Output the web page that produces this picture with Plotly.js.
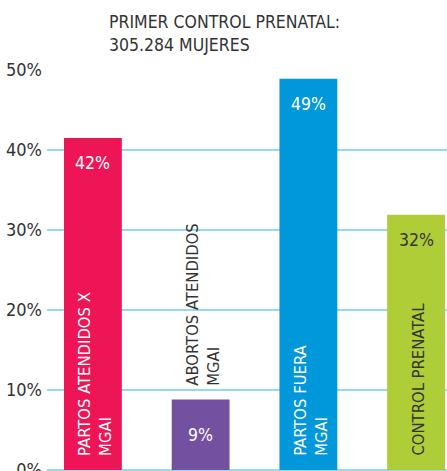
<!DOCTYPE html>
<html><head><meta charset="utf-8">
<script src="https://cdn.plot.ly/plotly-3.0.1.min.js"></script>
<style>html,body{margin:0;padding:0;background:#fff}#chart{width:447px;height:471px}</style>
</head><body><div id="chart"></div>
<script>
const categories = ["PARTOS ATENDIDOS X<br>MGAI", "ABORTOS ATENDIDOS<br>MGAI", "PARTOS FUERA<br>MGAI", "CONTROL PRENATAL"];
const values = [41.5, 8.8, 48.9, 31.9];
const valueLabels = ["42%", "9%", "49%", "32%"];
const colors = ["#ED1556", "#7350A0", "#0097DB", "#AFCD36"];
const labelColors = ["#ffffff", "#ffffff", "#ffffff", "#333333"];
const catColors = ["#ffffff", "#333333", "#ffffff", "#333333"];
const tickVals = [0, 10, 20, 30, 40, 50];
const tickText = ["0%", "10%", "20%", "30%", "40%", "50%"];
const titleText = "PRIMER CONTROL PRENATAL:<br>305.284 MUJERES";

const FONT = "'Liberation Sans Narrow', 'Arial Narrow', 'DejaVu Sans Condensed', sans-serif";
const xs = categories.map((c, i) => i);

const annotations = [];
values.forEach((v, i) => {
  const small = v < 15;
  annotations.push({
    x: i, y: small ? v / 2 : v, xref: 'x', yref: 'y',
    text: valueLabels[i], showarrow: false,
    yanchor: small ? 'middle' : 'top', yshift: small ? 0 : -13,
    font: {family: FONT, size: 17.5, color: labelColors[i]}
  });
  annotations.push({
    x: i, y: small ? v : 0, xref: 'x', yref: 'y',
    text: categories[i], showarrow: false, textangle: -90,
    xanchor: 'center', yanchor: 'bottom', align: 'left',
    xshift: 2, yshift: 12,
    font: {family: FONT, size: 16.5, color: catColors[i]}
  });
});
annotations.push({
  x: 0, y: 1, xref: 'paper', yref: 'paper', xshift: 60, yshift: 60,
  text: titleText, showarrow: false, xanchor: 'left', yanchor: 'top', align: 'left',
  font: {family: FONT, size: 17.5, color: '#333333'}
});

Plotly.newPlot('chart', [{
  type: 'bar', x: xs, y: values, width: 0.537,
  marker: {color: colors}, hoverinfo: 'none'
}], {
  width: 447, height: 471,
  margin: {l: 47, r: 0, t: 70, b: 0, pad: 0},
  paper_bgcolor: '#ffffff', plot_bgcolor: '#ffffff',
  showlegend: false,
  xaxis: {range: [-0.426, 3.287], showticklabels: false, showgrid: false, zeroline: false, ticks: ''},
  yaxis: {range: [-0.125, 50], tickvals: tickVals, ticktext: tickText, showgrid: true,
          gridcolor: '#95d9f5', gridwidth: 1.5, zeroline: true, zerolinecolor: '#95d9f5', zerolinewidth: 1.5,
          ticks: '', ticklabelstandoff: 4, ticklabeloverflow: 'allow',
          tickfont: {family: FONT, size: 18, color: '#333333'}},
  annotations: annotations
}, {staticPlot: true, displayModeBar: false});
</script></body></html>
